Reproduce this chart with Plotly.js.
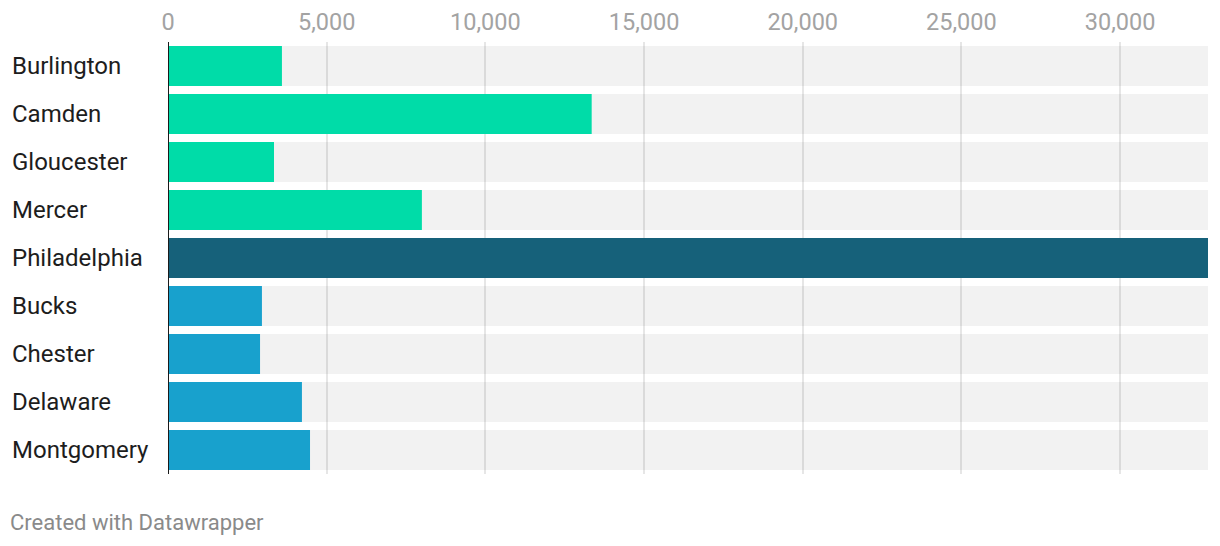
<!DOCTYPE html>
<html>
<head>
<meta charset="utf-8">
<script src="https://cdn.plot.ly/plotly-3.0.1.min.js"></script>
<style>
  body { margin: 0; background: #fff; }
  #chart { width: 1220px; height: 546px; }
</style>
</head>
<body>
<div id="chart"></div>
<script>
// counties, top to bottom
const counties = ["Burlington", "Camden", "Gloucester", "Mercer", "Philadelphia",
                  "Bucks", "Chester", "Delaware", "Montgomery"];
const values = [3590, 13350, 3340, 8000, 32770, 2960, 2900, 4220, 4475];
const barColors = ["#00dca8", "#00dca8", "#00dca8", "#00dca8", "#16617a",
                   "#18a1cd", "#18a1cd", "#18a1cd", "#18a1cd"];
const tickVals = [0, 5000, 10000, 15000, 20000, 25000, 30000];

const maxVal = Math.max(...values);

// light gray track behind every bar
const track = {
  type: "bar",
  orientation: "h",
  y: counties,
  x: counties.map(() => maxVal),
  marker: { color: "rgba(0,0,0,0.05)" },
  hoverinfo: "skip",
  showlegend: false,
};

const bars = {
  type: "bar",
  orientation: "h",
  y: counties,
  x: values,
  marker: { color: barColors },
  showlegend: false,
};

const labels = counties.map((c) => ({
  text: c,
  xref: "paper",
  x: -158 / 1040,
  xanchor: "left",
  yref: "y",
  y: c,
  showarrow: false,
  font: { family: "Roboto", size: 24, color: "#1d1d1d" },
}));

labels.push({
  text: "Created with Datawrapper",
  xref: "paper",
  yref: "paper",
  x: -160 / 1040,
  xanchor: "left",
  y: -48 / 432,
  yanchor: "middle",
  showarrow: false,
  font: { family: "Roboto", size: 22, color: "#8a8a8a" },
});

const layout = {
  width: 1220,
  height: 546,
  margin: { l: 168, r: 12, t: 42, b: 72 },
  paper_bgcolor: "#fff",
  plot_bgcolor: "#fff",
  barmode: "overlay",
  bargap: 1 / 6,
  font: { family: "Roboto" },
  xaxis: {
    side: "top",
    range: [0, maxVal],
    tickvals: tickVals,
    ticktext: tickVals.map((v) => v.toLocaleString("en-US")),
    showgrid: true,
    gridcolor: "#e6e6e6",
    gridwidth: 2,
    zeroline: false,
    ticks: "",
    tickfont: { family: "Roboto", size: 23.5, color: "#a3a3a3" },
    ticklabelstandoff: 6,
    fixedrange: true,
  },
  yaxis: {
    categoryorder: "array",
    categoryarray: counties,
    autorange: "reversed",
    showticklabels: false,
    showgrid: false,
    zeroline: false,
    showline: false,
    ticks: "",
    fixedrange: true,
  },
  shapes: [{
    type: "line",
    xref: "x", yref: "paper",
    x0: 0, x1: 0, y0: 0, y1: 1,
    line: { color: "#1a1a1a", width: 2 },
  }],
  annotations: labels,
};

Plotly.newPlot("chart", [track, bars], layout, { displayModeBar: false, staticPlot: true });
</script>
</body>
</html>
